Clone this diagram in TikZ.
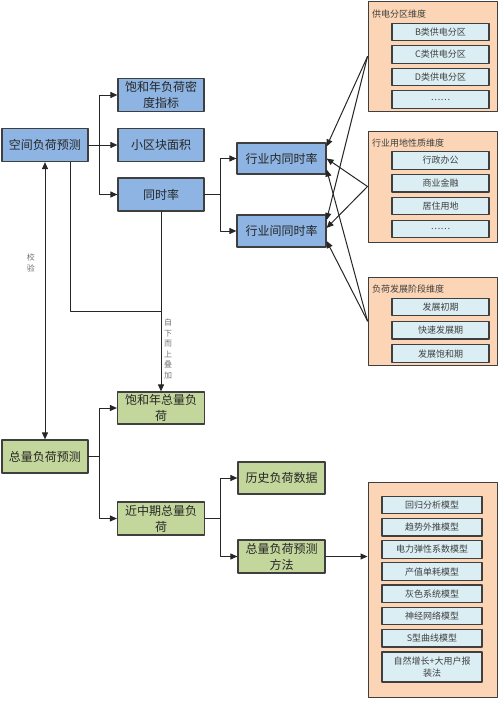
\documentclass[tikz,border=0pt]{standalone}
\usepackage{fontspec}
\setmainfont{Noto Sans CJK SC}
\usepackage{tikz}
\usepackage{xcolor}
\usetikzlibrary{arrows.meta}

\definecolor{kjblue}{HTML}{8DB4E2}
\definecolor{zlgreen}{HTML}{C3D69B}
\definecolor{peach}{HTML}{FBD5B5}
\definecolor{itemblue}{HTML}{DAEEF3}
\definecolor{edgegray}{HTML}{3F3F3F}
\definecolor{linegray}{HTML}{262626}

\begin{document}
\begin{tikzpicture}[x=1pt, y=-1pt, line cap=round, line join=round,
    bigbox/.style={draw=edgegray, line width=1.2pt, minimum width=86pt, minimum height=33pt,
        inner sep=0pt, align=center, text=black!85, font=\fontsize{12}{16}\selectfont},
    spacebox/.style={bigbox, fill=kjblue},
    totalbox/.style={bigbox, fill=zlgreen},
    dimbox/.style={draw=edgegray, line width=1pt, fill=peach, inner sep=0pt},
    dimtitle/.style={anchor=west, inner sep=0pt, text=black!75, font=\fontsize{9}{11}\selectfont},
    itembox/.style={draw=edgegray, line width=1.2pt, fill=itemblue, minimum width=97pt, minimum height=17.5pt,
        inner sep=0pt, align=center, text=black!75, font=\fontsize{9}{12}\selectfont},
    plain/.style={line width=1pt, draw=linegray},
    link/.style={plain, -{Triangle[length=7pt,width=6pt]}},
    twoway/.style={plain, {Triangle[length=7pt,width=6pt]}-{Triangle[length=7pt,width=6pt]}},
    tag/.style={inner sep=0pt, align=center, text=black!55, font=\fontsize{8}{10.5}\selectfont}]

    \useasboundingbox (0,0) rectangle (500,701);

    % spatial load forecast (blue)
    \node[spacebox] (kjfh) at (45,145) {空间负荷预测};
    \node[spacebox] (bhnmd) at (161,95) {饱和年负荷密\\度指标};
    \node[spacebox] (xqk) at (161,145) {小区块面积};
    \node[spacebox] (tsl) at (161,194.5) {同时率};
    \node[spacebox, minimum width=89pt, minimum height=31pt] (hyn) at (281.5,158.5) {行业内同时率};
    \node[spacebox, minimum width=89pt, minimum height=32pt] (hyj) at (281.5,231) {行业间同时率};

    % total load forecast (green)
    \node[totalbox] (zlfh) at (45,456.5) {总量负荷预测};
    \node[totalbox, minimum width=87pt, minimum height=32pt] (bhzl) at (161,408) {饱和年总量负\\荷};
    \node[totalbox, minimum width=87pt] (jzq) at (161,518.5) {近中期总量负\\荷};
    \node[totalbox, minimum width=87pt, minimum height=32pt] (lsfh) at (281.5,478) {历史负荷数据};
    \node[totalbox, minimum width=87pt] (ff) at (281.5,556.5) {总量负荷预测\\方法};

    % dimensions
    \node[dimbox, minimum width=129pt, minimum height=109pt] (gd) at (432.5,56.5) {};
    \node[dimtitle] (gdt) at (372,14) {供电分区维度};
    \foreach \t [count=\i] in {B类供电分区, C类供电分区, D类供电分区, ……}
        \node[itembox] (gd\i) at (440.5,9.5+22.5*\i) {\t};

    \node[dimbox, minimum width=129pt, minimum height=111pt] (yd) at (432.5,186.5) {};
    \node[dimtitle] (ydt) at (372,143) {行业用地性质维度};
    \foreach \t [count=\i] in {行政办公, 商业金融, 居住用地, ……}
        \node[itembox] (yd\i) at (440.5,137.7+22.8*\i) {\t};

    \node[dimbox, minimum width=129pt, minimum height=88pt] (fz) at (432.5,321) {};
    \node[dimtitle] (fzt) at (372,289) {负荷发展阶段维度};
    \foreach \t [count=\i] in {发展初期, 快速发展期, 发展饱和期}
        \node[itembox] (fz\i) at (440.5,283.7+23.3*\i) {\t};

    % forecast models
    \node[dimbox, minimum width=129pt, minimum height=215pt] (mx) at (432.5,589.5) {};
    \foreach \t [count=\i] in {回归分析模型, 趋势外推模型, 电力弹性系数模型, 产值单耗模型, 灰色系统模型, 神经网络模型, S型曲线模型}
        \node[itembox, minimum width=100pt] (mx\i) at (432,482.8+22.2*\i) {\t};
    \node[itembox, minimum width=100pt, minimum height=30pt] (mx8) at (432,667) {自然增长+大用户报\\装法};

    % spatial branches
    \coordinate (kb) at (99,145);
    \draw[link] (kjfh.east) -- (xqk.west);
    \draw[link] (kb) |- (bhnmd.west);
    \draw[link] (kb) |- (tsl.west);

    \coordinate (tb) at (220,194.5);
    \draw[plain] (tsl.east) -- (tb);
    \draw[link] (tb) |- (hyn.west);
    \draw[link] (tb) |- (hyj.west);

    % dimension arrows into the rate boxes
    \draw[link] (gd.west) -- ([yshift=12pt]hyn.east);
    \draw[link] (yd.west) -- (hyn.east);
    \draw[link] (fz.west) -- ([yshift=-11pt]hyn.east);
    \draw[link] (gd.west) -- ([yshift=11pt]hyj.east);
    \draw[link] (yd.west) -- ([yshift=3pt]hyj.east);
    \draw[link] (fz.west) -- ([yshift=-10pt]hyj.east);

    % bottom-up stacking and check
    \coordinate (ja) at (70,311);
    \coordinate (jb) at (161,311);
    \draw[plain] (kjfh.south -| ja) -- (ja) -- (jb);
    \draw[link] (tsl.south) -- (bhzl.north);
    \node[tag] (zxsj) at (168,349) {自\\下\\而\\上\\叠\\加};

    \draw[twoway] (kjfh.south) -- (zlfh.north);
    \node[tag] (jy) at (31,263) {校\\验};

    % total branches
    \coordinate (zb) at (99,456.5);
    \draw[plain] (zlfh.east) -- (zb);
    \draw[link] (zb) |- (bhzl.west);
    \draw[link] (zb) |- (jzq.west);

    \coordinate (jzb) at (220,518.5);
    \draw[plain] (jzq.east) -- (jzb);
    \draw[link] (jzb) |- (lsfh.west);
    \draw[link] (jzb) |- (ff.west);

    \draw[link] (ff.east) -- (ff.east -| mx.west);
\end{tikzpicture}
\end{document}
